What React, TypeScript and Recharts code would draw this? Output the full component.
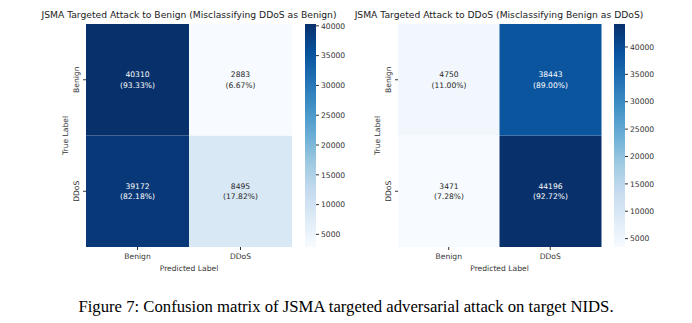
import { BarChart, Bar, XAxis, YAxis, Cell, LabelList } from "recharts";

const COLS = ["Benign", "DDoS"];
const ROWS = ["Benign", "DDoS"];

// left: targeted to Benign
const LEFT_TITLE = "JSMA Targeted Attack to Benign (Misclassifying DDoS as Benign)";
const LEFT_BENIGN_ROW = [40310, 2883];
const LEFT_DDOS_ROW = [39172, 8495];
const LEFT_CBAR_TICKS = [5000, 10000, 15000, 20000, 25000, 30000, 35000, 40000];

// right: targeted to DDoS
const RIGHT_TITLE = "JSMA Targeted Attack to DDoS (Misclassifying Benign as DDoS)";
const RIGHT_BENIGN_ROW = [4750, 38443];
const RIGHT_DDOS_ROW = [3471, 44196];
const RIGHT_CBAR_TICKS = [5000, 10000, 15000, 20000, 25000, 30000, 35000, 40000];

const CAPTION = "Figure 7: Confusion matrix of JSMA targeted adversarial attack on target NIDS.";

const BLUES = ["#f7fbff", "#deebf7", "#c6dbef", "#9ecae1", "#6baed6", "#4292c6", "#2171b5", "#08519c", "#08306b"];
const FONT = "'DejaVu Sans', sans-serif";
const INK = "#333";

function hexToRgb(h: string) {
  return [1, 3, 5].map((i) => parseInt(h.slice(i, i + 2), 16));
}

function blues(t: number) {
  const c = Math.max(0, Math.min(1, t)) * 8;
  const i = Math.min(7, Math.floor(c));
  const f = c - i;
  const a = hexToRgb(BLUES[i]);
  const b = hexToRgb(BLUES[i + 1]);
  const rgb = a.map((v, k) => Math.round(v + (b[k] - v) * f));
  return { css: `rgb(${rgb.join(",")})`, lum: (0.299 * rgb[0] + 0.587 * rgb[1] + 0.114 * rgb[2]) / 255 };
}

type PanelProps = {
  left: number;
  yWidth: number;
  plotWidth: number;
  benign: number[];
  ddos: number[];
};

function Heatmap({ left, yWidth, plotWidth, benign, ddos }: PanelProps) {
  const all = [...benign, ...ddos];
  const min = Math.min(...all);
  const max = Math.max(...all);
  const norm = (v: number) => (v - min) / (max - min);
  const rows: Record<string, number[]> = { benign, ddos };
  const data = COLS.map((c) => ({ col: c, ddos: 1, benign: 1 }));

  const cellLabel = (key: string) => (props: any) => {
    const { x, y, width, height, index } = props;
    const v = rows[key][index];
    const total = rows[key][0] + rows[key][1];
    const pct = ((v / total) * 100).toFixed(2);
    const col = blues(norm(v));
    const fill = col.lum < 0.5 ? "#fff" : "#262626";
    const cx = x + width / 2;
    const cy = y + height / 2;
    return (
      <g>
        <text x={cx} y={cy - 5} textAnchor="middle" dominantBaseline="central" fontSize={7.6} fill={fill} fontFamily={FONT}>
          {v}
        </text>
        <text x={cx} y={cy + 5.5} textAnchor="middle" dominantBaseline="central" fontSize={7.6} fill={fill} fontFamily={FONT}>
          ({pct}%)
        </text>
      </g>
    );
  };

  const yTick = (props: any) => {
    const { x, y, payload } = props;
    const name = payload.value > 1 ? ROWS[0] : ROWS[1];
    const cx = x - 5;
    return (
      <text x={cx} y={y} transform={`rotate(-90, ${cx}, ${y})`} textAnchor="middle" dominantBaseline="central" fontSize={7.6} fill={INK} fontFamily={FONT}>
        {name}
      </text>
    );
  };

  return (
    <div style={{ position: "absolute", left, top: 0 }}>
      <BarChart
        width={yWidth + plotWidth + 8}
        height={280}
        data={data}
        margin={{ top: 24, right: 8, bottom: 0, left: 0 }}
        barCategoryGap={0}
        barGap={0}
      >
        <XAxis
          dataKey="col"
          height={33}
          axisLine={false}
          tickSize={3}
          tickMargin={4}
          tickLine={{ stroke: INK }}
          tick={{ fontSize: 7.6, fill: INK, fontFamily: FONT }}
          label={{
            content: (p: any) => {
              const vb = p.viewBox;
              return (
                <text x={vb.x + vb.width / 2} y={vb.y + 21} textAnchor="middle" dominantBaseline="central" fontSize={7.6} fill={INK} fontFamily={FONT}>
                  Predicted Label
                </text>
              );
            },
          }}
        />
        <YAxis
          type="number"
          domain={[0, 2]}
          ticks={[0.5, 1.5]}
          width={yWidth}
          axisLine={false}
          tickSize={3}
          tickMargin={2}
          tickLine={{ stroke: INK }}
          tick={yTick}
          label={{
            content: (p: any) => {
              const vb = p.viewBox;
              const cx = vb.x + vb.width - 21;
              const cy = vb.y + vb.height / 2;
              return (
                <text x={cx} y={cy} transform={`rotate(-90, ${cx}, ${cy})`} textAnchor="middle" dominantBaseline="central" fontSize={7.6} fill={INK} fontFamily={FONT}>
                  True Label
                </text>
              );
            },
          }}
        />
        <Bar dataKey="ddos" stackId="m" isAnimationActive={false}>
          {ddos.map((v, i) => (
            <Cell key={i} fill={blues(norm(v)).css} />
          ))}
          <LabelList content={cellLabel("ddos")} />
        </Bar>
        <Bar dataKey="benign" stackId="m" isAnimationActive={false}>
          {benign.map((v, i) => (
            <Cell key={i} fill={blues(norm(v)).css} />
          ))}
          <LabelList content={cellLabel("benign")} />
        </Bar>
      </BarChart>
    </div>
  );
}

function ColorBar({ left, id, values, ticks }: { left: number; id: string; values: number[]; ticks: number[] }) {
  const min = Math.min(...values);
  const max = Math.max(...values);
  const data = [{ name: "c", range: [min, max] }];
  // top of the bar is the max value -> darkest colour
  const stops = [...BLUES].reverse();
  return (
    <div style={{ position: "absolute", left, top: 0 }}>
      <BarChart width={11 + 42} height={280} data={data} margin={{ top: 24, right: 0, bottom: 33, left: 0 }} barCategoryGap={0}>
        <defs>
          <linearGradient id={id} x1="0" y1="0" x2="0" y2="1">
            {stops.map((c, i) => (
              <stop key={i} offset={i / 8} stopColor={c} />
            ))}
          </linearGradient>
        </defs>
        <XAxis dataKey="name" hide />
        <YAxis
          orientation="right"
          type="number"
          domain={[min, max]}
          ticks={ticks}
          width={42}
          axisLine={false}
          tickSize={3}
          tickMargin={2}
          tickLine={{ stroke: INK }}
          tick={{ fontSize: 7.6, fill: INK, fontFamily: FONT, textAnchor: "start" }}
        />
        <Bar dataKey="range" fill={`url(#${id})`} isAnimationActive={false} />
      </BarChart>
    </div>
  );
}

const titleStyle = (center: number): React.CSSProperties => ({
  position: "absolute",
  left: center - 200,
  width: 400,
  top: 9,
  textAlign: "center",
  fontFamily: FONT,
  fontSize: 9.2,
  lineHeight: "12px",
  color: "#222",
  whiteSpace: "nowrap",
});

export default function App() {
  return (
    <div style={{ position: "absolute", left: 0, top: 0, width: 692, height: 323, background: "#fff", overflow: "hidden" }}>
      <div style={titleStyle(189)}>{LEFT_TITLE}</div>
      <div style={titleStyle(499)}>{RIGHT_TITLE}</div>
      <Heatmap left={0} yWidth={86} plotWidth={206} benign={LEFT_BENIGN_ROW} ddos={LEFT_DDOS_ROW} />
      <ColorBar left={305} id="cbarLeft" values={[...LEFT_BENIGN_ROW, ...LEFT_DDOS_ROW]} ticks={LEFT_CBAR_TICKS} />
      <Heatmap left={340} yWidth={58} plotWidth={203} benign={RIGHT_BENIGN_ROW} ddos={RIGHT_DDOS_ROW} />
      <ColorBar left={614} id="cbarRight" values={[...RIGHT_BENIGN_ROW, ...RIGHT_DDOS_ROW]} ticks={RIGHT_CBAR_TICKS} />
      <div
        style={{
          position: "absolute",
          left: 0,
          width: 692,
          top: 297,
          textAlign: "center",
          fontFamily: "'Liberation Serif', 'Times New Roman', serif",
          fontSize: 16.7,
          lineHeight: "19px",
          color: "#000",
        }}
      >
        {CAPTION}
      </div>
    </div>
  );
}
